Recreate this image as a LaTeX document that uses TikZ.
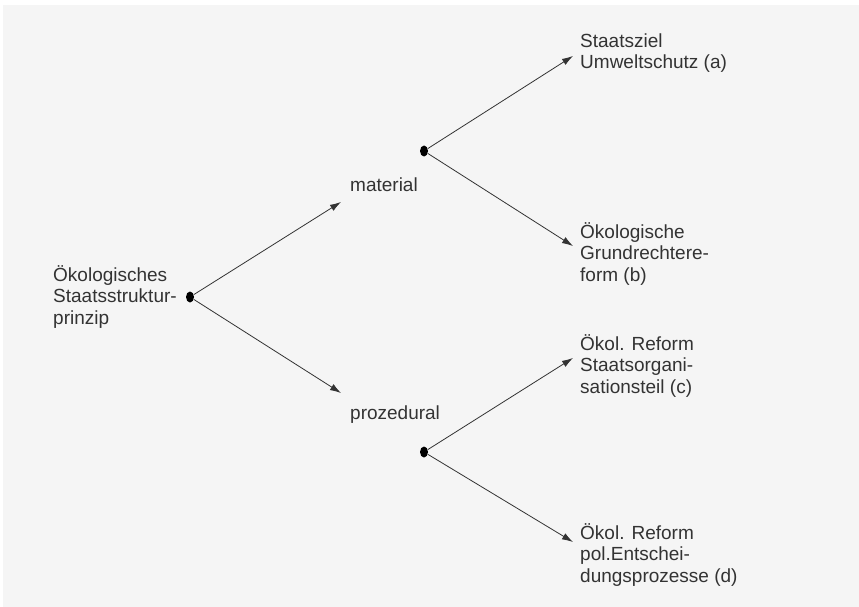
\documentclass[tikz,border=0pt]{standalone}
\usepackage{fontspec}
\setmainfont{Liberation Sans}
\usepackage{xcolor}
\usepackage{tikz}
\usetikzlibrary{shapes,arrows.meta,positioning}

\definecolor{bggray}{HTML}{F5F5F5}
\definecolor{ink}{HTML}{333333}

\begin{document}
\begin{tikzpicture}[
    x=1pt, y=-1pt,
    label/.style={anchor=west, align=left, inner sep=0pt, text=ink, font=\fontsize{19}{21.5}\selectfont},
    dot/.style={ellipse, fill=black, minimum width=8pt, minimum height=11pt, inner sep=0pt},
    arrow/.style={-{Latex[length=11pt,width=7pt]}, draw=ink, line width=0.8pt}
]
    % Background
    \useasboundingbox (0,0) rectangle (859,607);
    \fill[bggray] (3,5) rectangle (859,607);

    % Root
    \node[label] (root) at (53,297) {Ökologisches\\Staatsstruktur-\\prinzip};
    \node[dot] (rootdot) at (190,297) {};

    % Middle level
    \node[label] (material) at (350,185) {material};
    \node[label] (prozedural) at (350,415) {prozedural};
    \node[dot] (matdot) at (424,151) {};
    \node[dot] (prodot) at (424,452) {};

    % Leaves
    \node[label] (leafa) at (580,53) {Staatsziel\\Umweltschutz (a)};
    \node[label] (leafb) at (580,254) {Ökologische\\Grundrechtere-\\form (b)};
    \node[label] (leafc) at (580,366) {Ökol. Reform\\Staatsorgani-\\sationsteil (c)};
    \node[label] (leafd) at (580,555) {Ökol. Reform\\pol.Entschei-\\dungsprozesse (d)};

    % Arrow tips
    \coordinate (tipmat) at (341,202);
    \coordinate (tippro) at (341,393);
    \coordinate (tipa) at (573,56);
    \coordinate (tipb) at (573,246);
    \coordinate (tipc) at (573,358);
    \coordinate (tipd) at (573,542);

    % Arrows
    \draw[arrow] (rootdot) -- (tipmat);
    \draw[arrow] (rootdot) -- (tippro);
    \draw[arrow] (matdot) -- (tipa);
    \draw[arrow] (matdot) -- (tipb);
    \draw[arrow] (prodot) -- (tipc);
    \draw[arrow] (prodot) -- (tipd);

\end{tikzpicture}
\end{document}
